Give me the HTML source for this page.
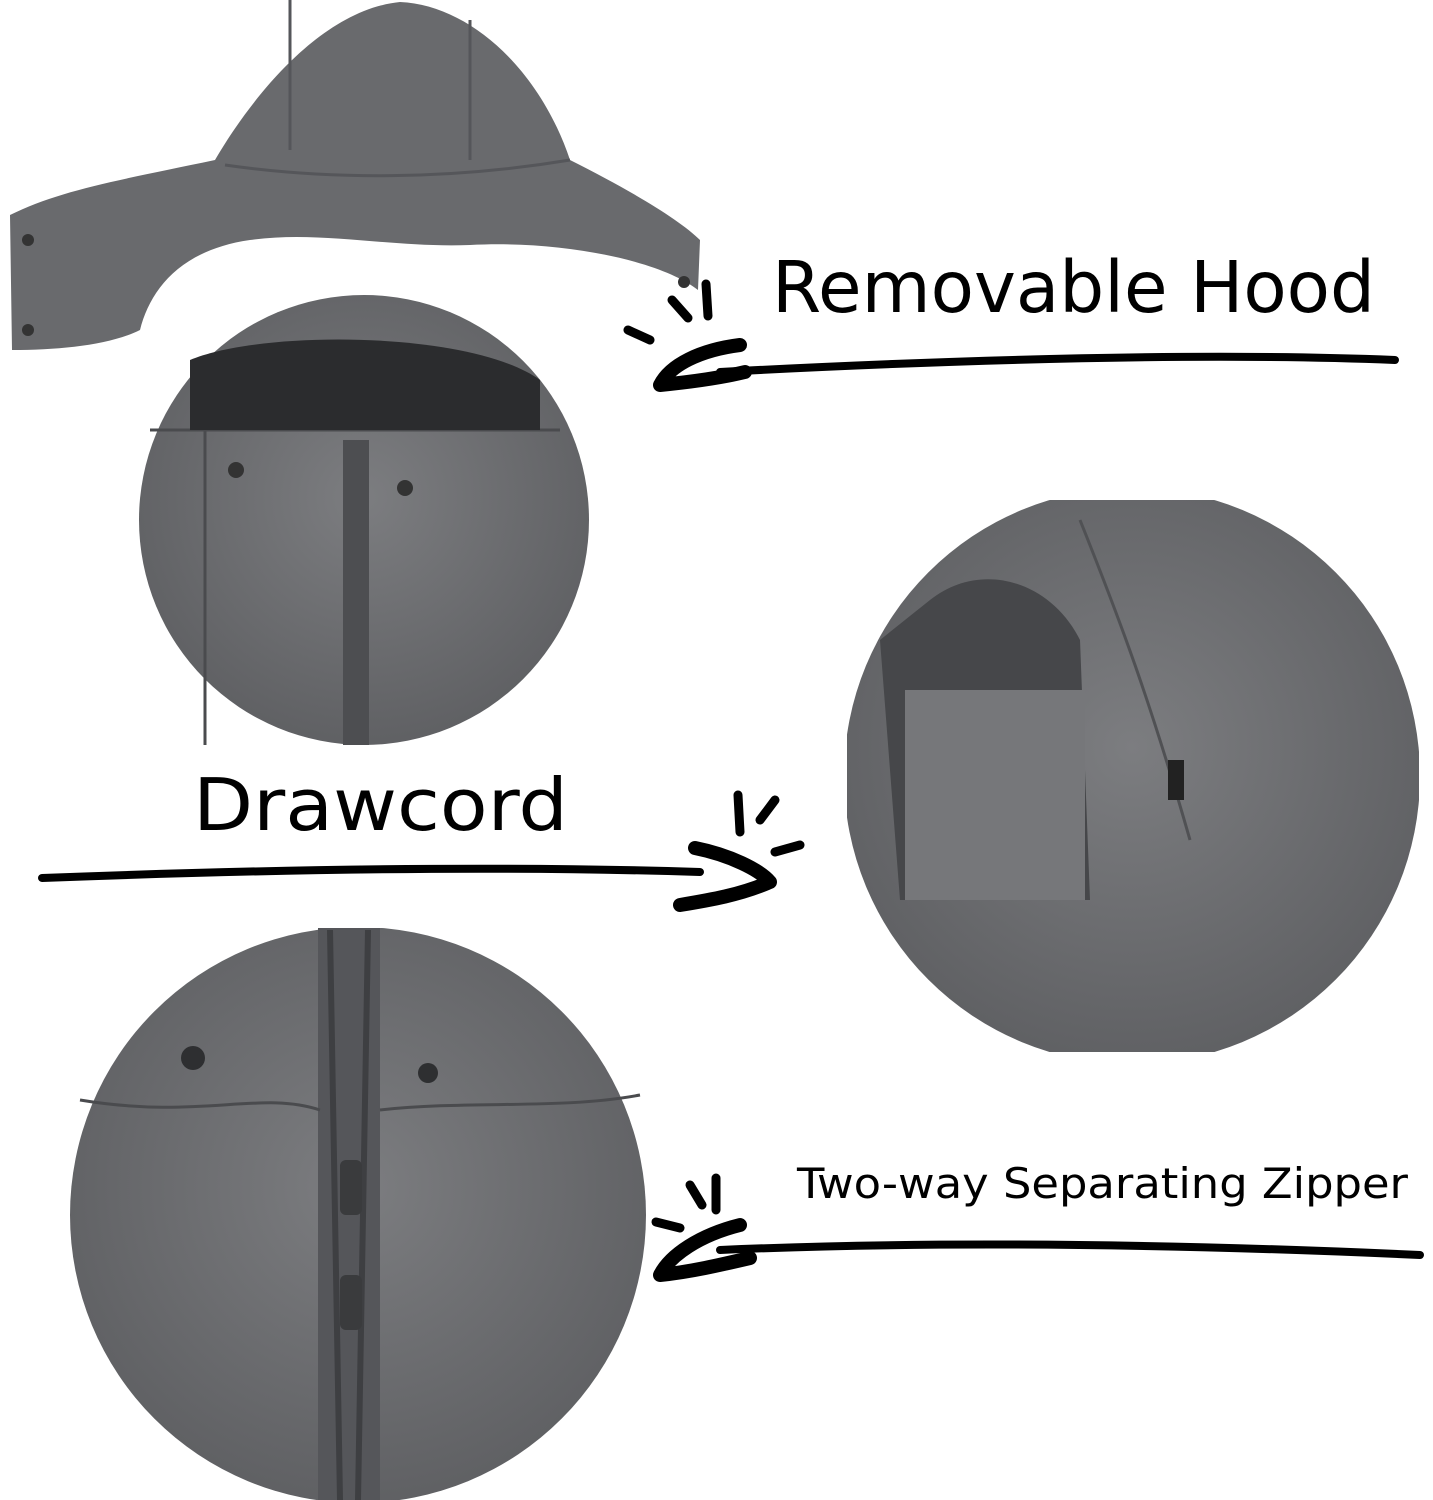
<!DOCTYPE html>
<html><head><meta charset="utf-8"><style>
html,body{margin:0;padding:0;background:#fff;}
svg{display:block}
text{font-family:"DejaVu Sans","Liberation Sans",sans-serif;fill:#000}
</style></head><body>
<svg width="1433" height="1500" viewBox="0 0 1433 1500" xmlns="http://www.w3.org/2000/svg">
<defs>
<radialGradient id="g1" cx="50%" cy="45%" r="60%"><stop offset="0" stop-color="#7c7d80"/><stop offset="1" stop-color="#5d5e61"/></radialGradient>
<clipPath id="c2"><rect x="847" y="500" width="572" height="552"/></clipPath>
<clipPath id="c3"><rect x="70" y="928" width="590" height="572"/></clipPath>
</defs>
<!-- hood -->
<path d="M10,215 C60,190 120,180 215,160 C250,100 320,10 400,2 C470,5 540,70 570,160 C630,190 680,220 700,240 L698,290 C660,260 560,240 470,245 C390,248 320,230 250,240 C180,250 150,290 140,330 C110,345 60,350 12,350 Z" fill="#696a6d"/>
<path d="M225,165 C330,180 450,180 570,160 M290,0 L290,150 M470,20 L470,160" stroke="#55565a" stroke-width="3" fill="none"/>
<circle cx="28" cy="240" r="6" fill="#333"/><circle cx="28" cy="330" r="6" fill="#333"/><circle cx="684" cy="282" r="6" fill="#333"/>
<!-- circle 1 -->
<circle cx="364" cy="520" r="225" fill="url(#g1)"/>
<path d="M150,430 L560,430 M205,425 L205,745 M355,440 L355,745" stroke="#4a4b4e" stroke-width="3" fill="none"/>
<path d="M190,360 C260,330 470,330 540,380 L540,430 L190,430 Z" fill="#2b2c2e"/>
<rect x="343" y="440" width="26" height="305" fill="#4d4e51"/>
<circle cx="236" cy="470" r="8" fill="#333"/><circle cx="405" cy="488" r="8" fill="#333"/>
<!-- circle 2 -->
<g clip-path="url(#c2)">
<circle cx="1132" cy="776" r="288" fill="url(#g1)"/>
<path d="M930,600 C980,560 1050,580 1080,640 L1090,900 L900,900 L880,640 Z" fill="#46474a"/>
<path d="M905,690 L1085,690 L1085,900 L905,900 Z" fill="#76777a"/>
<path d="M1080,520 C1120,620 1150,700 1190,840" stroke="#505154" stroke-width="3" fill="none"/>
<rect x="1168" y="760" width="16" height="40" fill="#222"/>
</g>
<!-- circle 3 -->
<g clip-path="url(#c3)">
<circle cx="358" cy="1215" r="288" fill="url(#g1)"/>
<rect x="318" y="928" width="62" height="572" fill="#55565a"/>
<path d="M330,930 L340,1500 M368,930 L358,1500" stroke="#3e3f42" stroke-width="6"/>
<path d="M80,1100 C200,1120 260,1090 320,1110 M380,1110 C470,1100 560,1110 640,1095" stroke="#4a4b4e" stroke-width="3" fill="none"/>
<circle cx="193" cy="1058" r="12" fill="#2e2f31"/><circle cx="428" cy="1073" r="10" fill="#2e2f31"/>
<rect x="340" y="1160" width="22" height="55" rx="6" fill="#3a3b3d"/>
<rect x="340" y="1275" width="22" height="55" rx="6" fill="#3a3b3d"/>
</g>
<!-- text -->
<text x="772" y="312" font-size="71" textLength="603" lengthAdjust="spacingAndGlyphs">Removable Hood</text>
<text x="193" y="830" font-size="72" textLength="375" lengthAdjust="spacingAndGlyphs">Drawcord</text>
<text x="797" y="1198" font-size="42" textLength="611" lengthAdjust="spacingAndGlyphs">Two-way Separating Zipper</text>
<!-- arrows -->
<g stroke="#000" fill="none" stroke-linecap="round">
<path d="M1395,360 C1200,352 950,360 720,372" stroke-width="8"/>
<path d="M740,345 C700,350 670,365 660,385 C690,382 720,378 745,372" stroke-width="14" stroke-linejoin="round"/>
<path d="M672,300 L688,318 M706,284 L708,316 M628,330 L650,340" stroke-width="9"/>
<path d="M42,878 C250,870 480,865 700,872" stroke-width="8"/>
<path d="M695,848 C730,855 760,870 770,882 C740,895 710,900 680,905" stroke-width="14" stroke-linejoin="round"/>
<path d="M738,795 L740,832 M760,820 L775,800 M775,852 L800,845" stroke-width="9"/>
<path d="M1420,1255 C1200,1245 950,1240 720,1250" stroke-width="8"/>
<path d="M740,1225 C700,1235 670,1255 660,1275 C690,1272 720,1265 750,1258" stroke-width="14" stroke-linejoin="round"/>
<path d="M690,1185 L702,1205 M716,1178 L716,1210 M656,1222 L680,1228" stroke-width="9"/>
</g>
</svg>
</body></html>
